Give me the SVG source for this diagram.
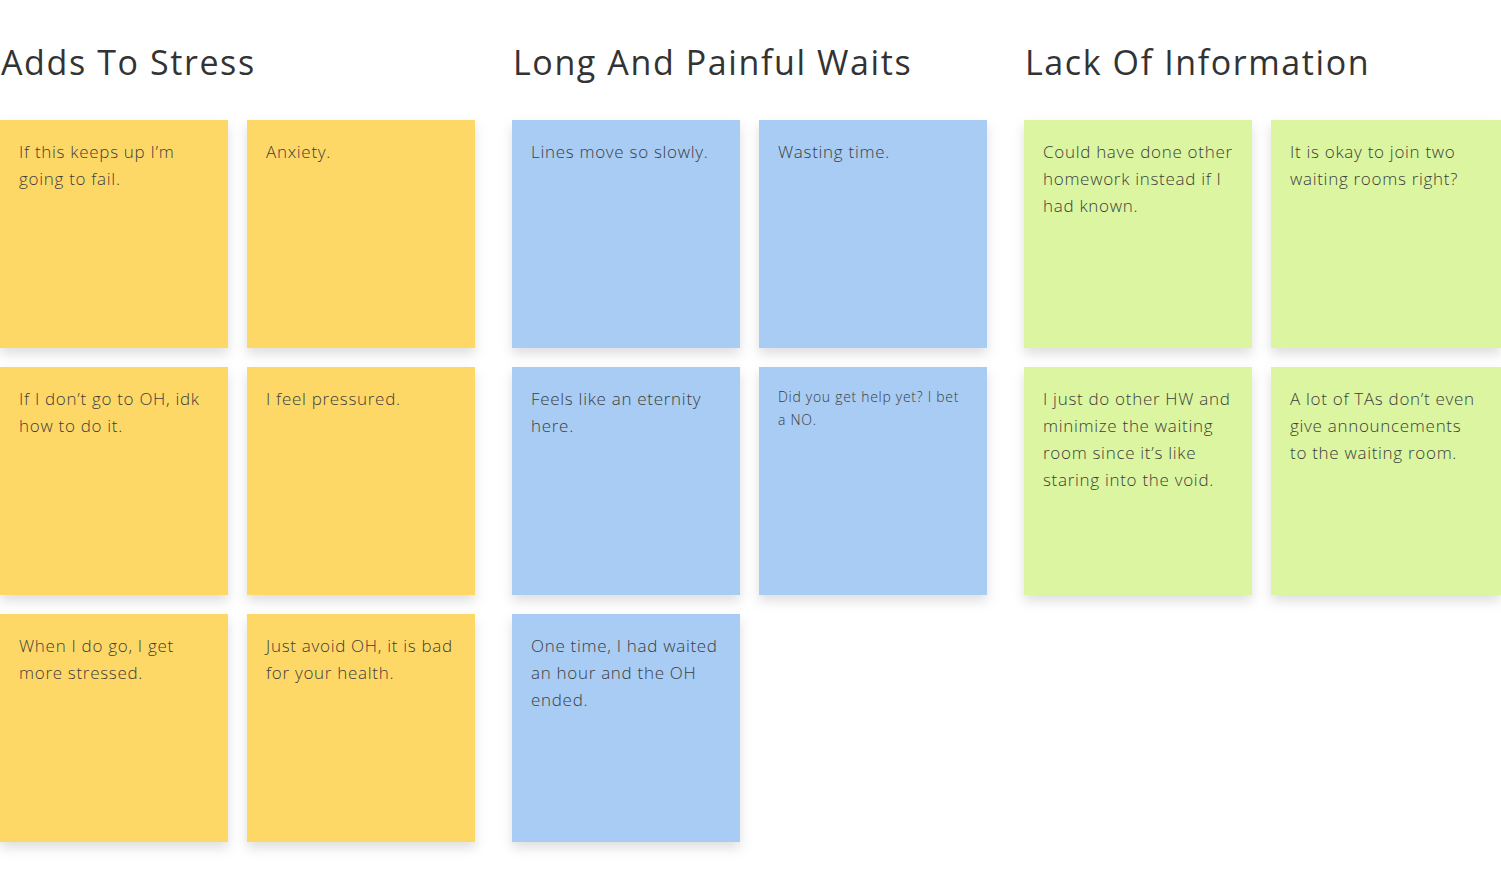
<svg xmlns="http://www.w3.org/2000/svg" width="1501" height="878" viewBox="0 0 1501 878">
<defs>
<filter id="sh" x="-20%" y="-20%" width="140%" height="140%">
<feDropShadow dx="0" dy="6" stdDeviation="6" flood-color="#000" flood-opacity="0.13"/>
</filter>
<style>
.h{font-family:"Open Sans","Liberation Sans",sans-serif;font-size:34px;fill:#333;font-weight:400;letter-spacing:1.6px}
.t{font-family:"Open Sans","Liberation Sans",sans-serif;font-size:17px;fill:#3d3d3d;font-weight:300;letter-spacing:0.7px}
.s{font-family:"Open Sans","Liberation Sans",sans-serif;font-size:14px;fill:#3d3d3d;font-weight:300;letter-spacing:0.7px}
.y{fill:#FED866;filter:url(#sh)}
.b{fill:#A8CCF3;filter:url(#sh)}
.g{fill:#DBF5A0;filter:url(#sh)}
</style>
</defs>
<rect width="1501" height="878" fill="#fff"/>
<g id="headings">
<text class="h" x="1" y="75">Adds To Stress</text>
<text class="h" x="513" y="75">Long And Painful Waits</text>
<text class="h" x="1025" y="75">Lack Of Information</text>
</g>
<g id="connectors"/>
<g id="n1"><rect class="y" x="0" y="120" width="228" height="228"/><text class="t" x="19" y="158">If this keeps up I’m<tspan x="19" dy="27">going to fail.</tspan></text></g>
<g id="n2"><rect class="y" x="247" y="120" width="228" height="228"/><text class="t" x="266" y="158">Anxiety.</text></g>
<g id="n3"><rect class="y" x="0" y="367" width="228" height="228"/><text class="t" x="19" y="405">If I don’t go to OH, idk<tspan x="19" dy="27">how to do it.</tspan></text></g>
<g id="n4"><rect class="y" x="247" y="367" width="228" height="228"/><text class="t" x="266" y="405">I feel pressured.</text></g>
<g id="n5"><rect class="y" x="0" y="614" width="228" height="228"/><text class="t" x="19" y="652">When I do go, I get<tspan x="19" dy="27">more stressed.</tspan></text></g>
<g id="n6"><rect class="y" x="247" y="614" width="228" height="228"/><text class="t" x="266" y="652">Just avoid OH, it is bad<tspan x="266" dy="27">for your health.</tspan></text></g>
<g id="n7"><rect class="b" x="512" y="120" width="228" height="228"/><text class="t" x="531" y="158">Lines move so slowly.</text></g>
<g id="n8"><rect class="b" x="759" y="120" width="228" height="228"/><text class="t" x="778" y="158">Wasting time.</text></g>
<g id="n9"><rect class="b" x="512" y="367" width="228" height="228"/><text class="t" x="531" y="405">Feels like an eternity<tspan x="531" dy="27">here.</tspan></text></g>
<g id="n10"><rect class="b" x="759" y="367" width="228" height="228"/><text class="s" x="778" y="402">Did you get help yet? I bet<tspan x="778" dy="23">a NO.</tspan></text></g>
<g id="n11"><rect class="b" x="512" y="614" width="228" height="228"/><text class="t" x="531" y="652">One time, I had waited<tspan x="531" dy="27">an hour and the OH</tspan><tspan x="531" dy="27">ended.</tspan></text></g>
<g id="n12"><rect class="g" x="1024" y="120" width="228" height="228"/><text class="t" x="1043" y="158">Could have done other<tspan x="1043" dy="27">homework instead if I</tspan><tspan x="1043" dy="27">had known.</tspan></text></g>
<g id="n13"><rect class="g" x="1271" y="120" width="230" height="228"/><text class="t" x="1290" y="158">It is okay to join two<tspan x="1290" dy="27">waiting rooms right?</tspan></text></g>
<g id="n14"><rect class="g" x="1024" y="367" width="228" height="228"/><text class="t" x="1043" y="405">I just do other HW and<tspan x="1043" dy="27">minimize the waiting</tspan><tspan x="1043" dy="27">room since it’s like</tspan><tspan x="1043" dy="27">staring into the void.</tspan></text></g>
<g id="n15"><rect class="g" x="1271" y="367" width="230" height="228"/><text class="t" x="1290" y="405">A lot of TAs don’t even<tspan x="1290" dy="27">give announcements</tspan><tspan x="1290" dy="27">to the waiting room.</tspan></text></g>
</svg>
